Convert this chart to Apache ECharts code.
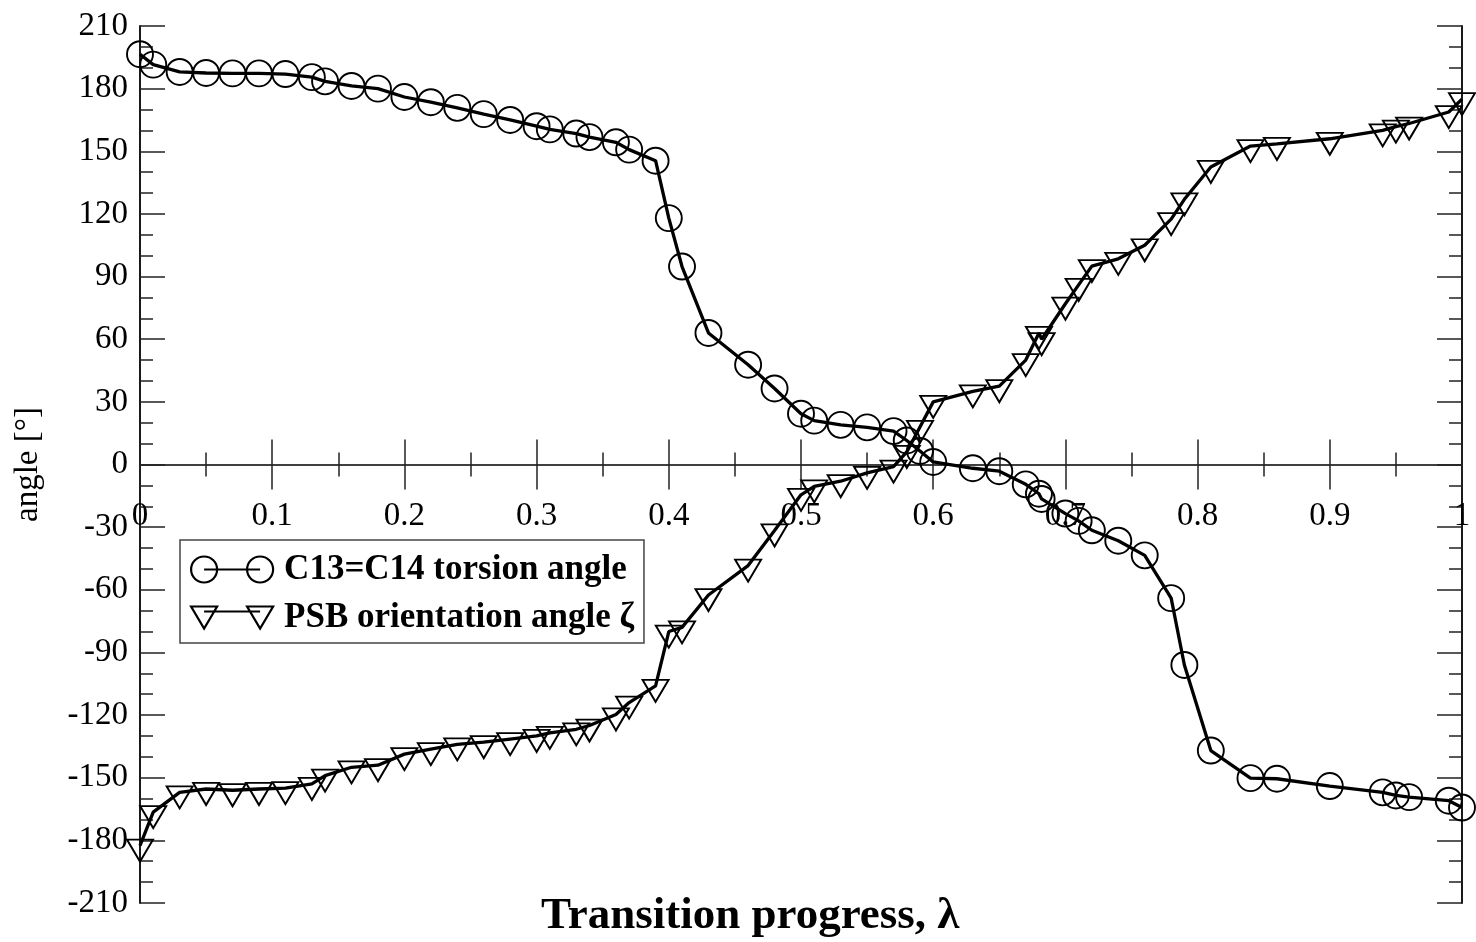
<!DOCTYPE html>
<html>
<head>
<meta charset="utf-8">
<script src="https://cdn.jsdelivr.net/npm/echarts@6/dist/echarts.min.js"></script>
<style>html,body{margin:0;padding:0;background:#fff}#c{width:1476px;height:942px}</style>
</head>
<body>
<div id="c"></div>
<script>
// Transition progress λ (shared by both series)
const lambda = [0, 0.01, 0.03, 0.05, 0.07, 0.09, 0.11, 0.13, 0.14, 0.16, 0.18, 0.20, 0.22, 0.24, 0.26, 0.28, 0.30, 0.31, 0.33, 0.34, 0.36, 0.37, 0.39,
  0.40, 0.41, 0.43, 0.46, 0.48, 0.50, 0.51, 0.53, 0.55, 0.57, 0.58, 0.59, 0.60, 0.63, 0.65, 0.67, 0.68, 0.682, 0.70, 0.71, 0.72, 0.74, 0.76,
  0.78, 0.79, 0.81, 0.84, 0.86, 0.90, 0.94, 0.95, 0.96, 0.99, 1.00];
// C13=C14 torsion angle (circles)
const torsion = [196.5, 191.5, 188, 187.5, 187.3, 187.3, 187, 185.5, 183.5, 181.3, 180, 176, 173.5, 170.8, 167.8, 165, 162, 160.5, 158.5, 156.8, 154.3, 150.8, 145.5,
  118, 94.8, 63, 47.8, 36.4, 24.3, 21, 19, 17.8, 16, 11.5, 6.5, 1.2, -1.8, -3.2, -9.5, -14, -16.5, -23.5, -27, -31.5, -36.5, -43.5,
  -64, -96, -137, -150.2, -150.5, -154, -157, -158.5, -159.3, -161, -164.3];
// PSB orientation angle ζ (down triangles)
const psb = [-182.5, -166.5, -157, -155.4, -156, -155.4, -155, -153, -149, -145, -144, -138.7, -136.3, -134, -133, -131.5, -130, -128.5, -126.8, -125, -119.7, -114, -106,
  -80, -78, -62.5, -48.4, -31.6, -14.5, -10.5, -8, -4, -1, 6, 18, 30, 35, 37.5, 50, 63, 60, 77, 86, 95, 98.5, 105,
  117.5, 127, 142.5, 152.5, 153.5, 156, 160, 161.8, 163.3, 168.8, 175];

const seriesNames = ['C13=C14 torsion angle', 'PSB orientation angle ζ'];
const xTitle = 'Transition progress, λ';
const yTitle = 'angle [°]';

const FONT = 'Liberation Serif';
const GRID = {left: 140, right: 14, top: 26, bottom: 39};
const circleIcon = 'path://M0,13 A13,13 0 1,1 26,13 A13,13 0 1,1 0,13 Z M13,13 L69,13 M56,13 A13,13 0 1,1 82,13 A13,13 0 1,1 56,13 Z';
const triIcon = 'path://M0,0 L26,0 L13,22 Z M13,5 L69,5 M56,0 L82,0 L69,22 Z';

// x labels sit just under the zero line (axis crosses at y = 0)
const gridBottomY = 942 - GRID.bottom;
const zeroY = GRID.top + (gridBottomY - GRID.top) / 2;
const xLabelMargin = -(gridBottomY - zeroY) + 35;

const tickStyle = {color: '#222', width: 1.5};
function xAxisCfg(pos, showLabel) {
  return {
    type: 'value', min: 0, max: 1, interval: 0.1, position: pos,
    axisLine: {show: true, onZero: true, lineStyle: {color: '#333', width: 1.5}},
    axisTick: {show: true, inside: false, length: 25, lineStyle: tickStyle},
    minorTick: {show: true, splitNumber: 2, length: 12, lineStyle: tickStyle},
    axisLabel: {show: showLabel, margin: xLabelMargin, fontFamily: FONT, fontSize: 33, color: '#000'},
    splitLine: {show: false}, minorSplitLine: {show: false}
  };
}
function yAxisCfg(pos, showLabel) {
  return {
    type: 'value', min: -210, max: 210, interval: 30, position: pos,
    axisLine: {show: true, onZero: false, lineStyle: {color: '#000', width: 1.8}},
    axisTick: {show: true, inside: true, length: 25, lineStyle: tickStyle},
    minorTick: {show: true, splitNumber: 3, length: 13, lineStyle: tickStyle},
    axisLabel: {show: showLabel, margin: 12, fontFamily: FONT, fontSize: 33, color: '#000'},
    splitLine: {show: false}, minorSplitLine: {show: false}
  };
}
const yLeft = yAxisCfg('left', true);
yLeft.name = yTitle;
yLeft.nameLocation = 'middle';
yLeft.nameGap = 95;
yLeft.nameTextStyle = {fontFamily: FONT, fontSize: 33, color: '#000'};

const chart = echarts.init(document.getElementById('c'), null, {renderer: 'canvas'});
chart.setOption({
  animation: false,
  backgroundColor: '#fff',
  grid: Object.assign({containLabel: false, outerBoundsMode: 'none'}, GRID),
  title: {
    text: xTitle, left: 536, top: 889,
    textStyle: {fontFamily: FONT, fontWeight: 'bold', fontSize: 45, color: '#000'}
  },
  legend: {
    left: 180, top: 540, orient: 'vertical', selectedMode: false,
    padding: [12, 10, 8, 10], itemGap: 13, itemWidth: 82, itemHeight: 26,
    borderColor: '#444', borderWidth: 1.5, backgroundColor: '#fff',
    textStyle: {fontFamily: FONT, fontSize: 35, fontWeight: 'bold', color: '#000', padding: [0, 0, 0, 6]},
    data: [
      {name: seriesNames[0], icon: circleIcon, itemStyle: {color: 'rgba(0,0,0,0)', borderColor: '#000', borderWidth: 2.2}},
      {name: seriesNames[1], icon: triIcon, itemStyle: {color: 'rgba(0,0,0,0)', borderColor: '#000', borderWidth: 2.2}}
    ]
  },
  xAxis: [xAxisCfg('bottom', true), xAxisCfg('top', false)],
  yAxis: [yLeft, yAxisCfg('right', false)],
  series: [
    {
      type: 'line', name: seriesNames[0], xAxisIndex: 0, yAxisIndex: 0,
      data: lambda.map((x, i) => [x, torsion[i]]),
      symbol: 'circle', symbolSize: 26, showSymbol: true, showAllSymbol: true, clip: false,
      itemStyle: {color: 'rgba(0,0,0,0)', borderColor: '#000', borderWidth: 1.9},
      lineStyle: {color: '#000', width: 3.3},
      emphasis: {disabled: true}, z: 3
    },
    {
      type: 'line', name: seriesNames[1], xAxisIndex: 0, yAxisIndex: 0,
      data: lambda.map((x, i) => [x, psb[i]]),
      symbol: 'triangle', symbolRotate: 180, symbolSize: [26, 22], symbolOffset: [0, 5],
      showSymbol: true, showAllSymbol: true, clip: false,
      itemStyle: {color: 'rgba(0,0,0,0)', borderColor: '#000', borderWidth: 1.9},
      lineStyle: {color: '#000', width: 3.3},
      emphasis: {disabled: true}, z: 3
    }
  ]
});
</script>
</body>
</html>
